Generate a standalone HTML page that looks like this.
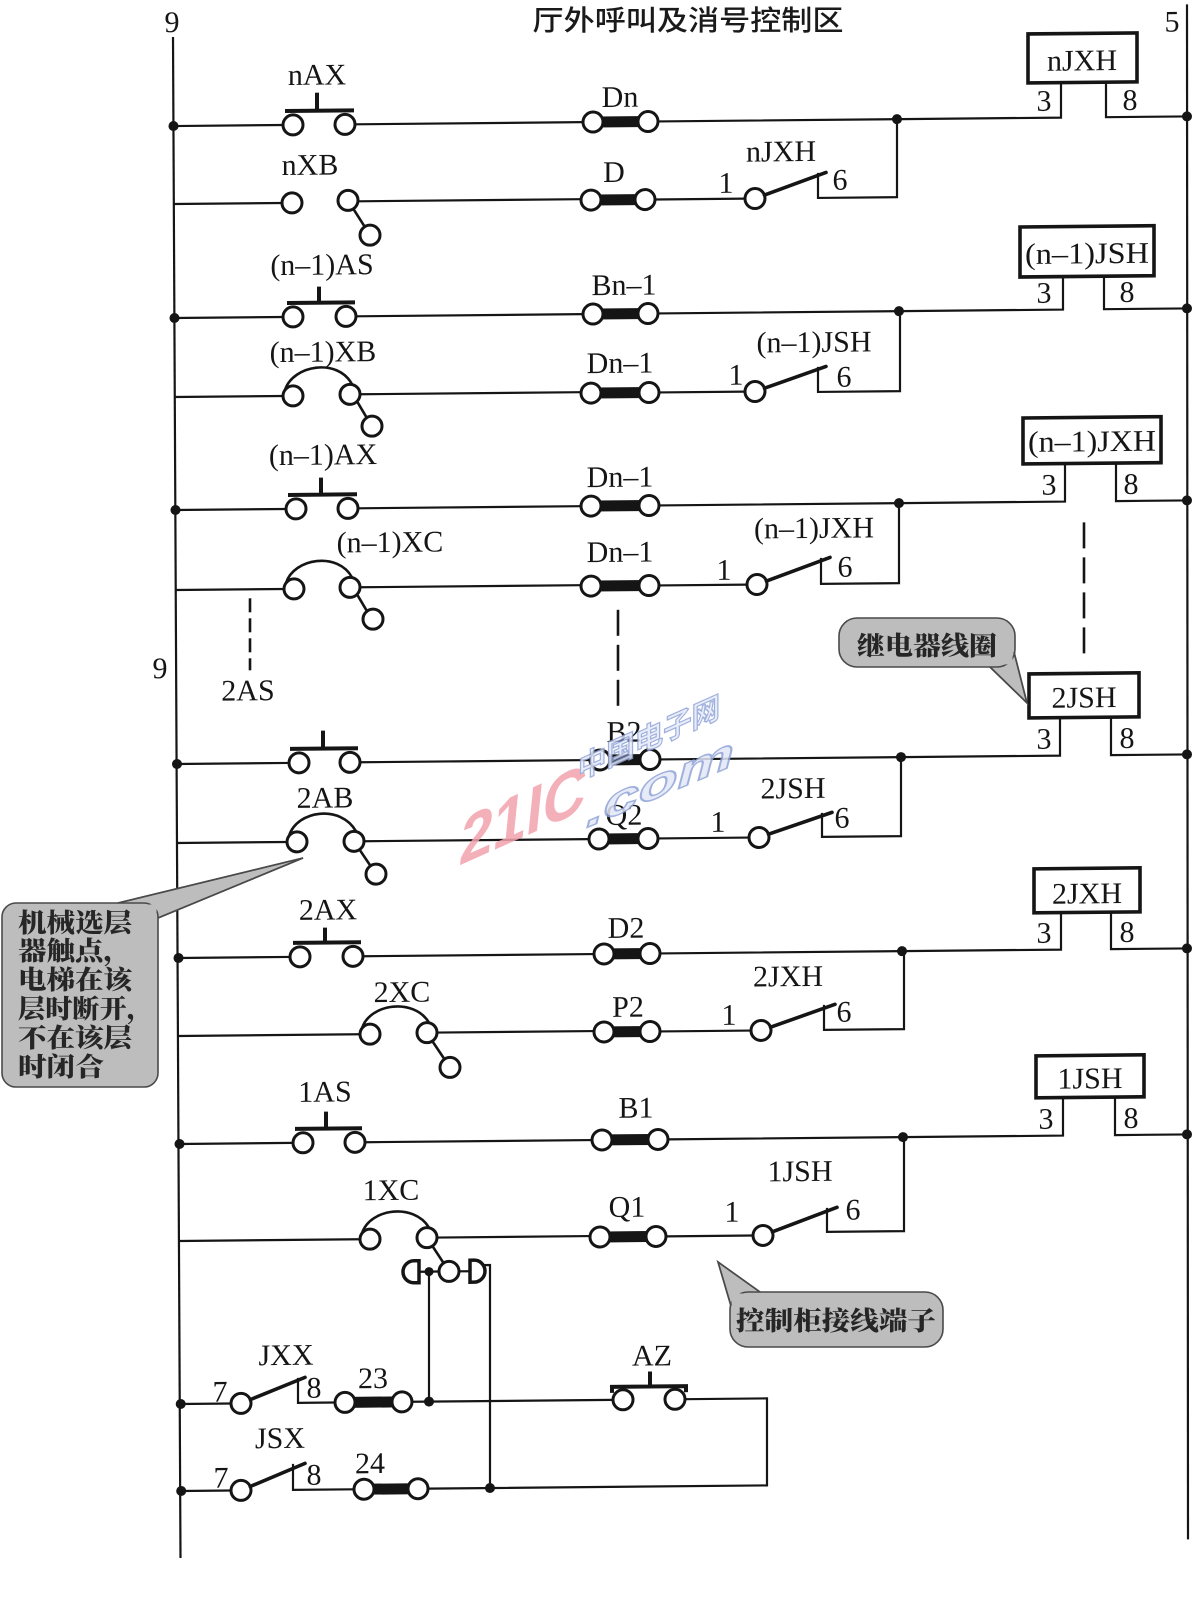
<!DOCTYPE html>
<html><head><meta charset="utf-8">
<style>html,body{margin:0;padding:0;background:#fff}svg{display:block}</style>
</head><body>
<svg width="1199" height="1598" viewBox="0 0 1199 1598" xmlns="http://www.w3.org/2000/svg">
<defs><style>
.w{stroke:#151515;stroke-width:2.2;fill:none}
.s{stroke:#151515;stroke-width:2.6;fill:none}
.c{stroke:#151515;stroke-width:3;fill:#fff}
.b{stroke:#151515;stroke-width:3.6;fill:none;stroke-linecap:round}
.bb{stroke:#151515;stroke-width:4;fill:none}
.t{font-family:"Liberation Serif","DejaVu Serif",serif;font-size:30px;fill:#151515;text-anchor:middle}
.dot{fill:#151515}
.fb{fill:#151515}
.box{stroke:#151515;stroke-width:3.6;fill:#fff}
.cj{font-family:"Liberation Serif","Noto Serif CJK SC",serif;font-weight:900;font-size:26px;fill:#262626}
.bub{fill:#bdbdbd;stroke:#4a4a4a;stroke-width:1.6}
.bf{fill:#bdbdbd}
.bl{stroke:#4a4a4a;stroke-width:1.6;fill:none}
</style></defs>
<rect width="1199" height="1598" fill="#fff"/>

<text x="688" y="30" text-anchor="middle" font-family="'Liberation Sans','Noto Sans CJK SC',sans-serif" font-weight="500" font-size="28" fill="#1a1a1a" textLength="311" lengthAdjust="spacingAndGlyphs">厅外呼叫及消号控制区</text>

<g transform="matrix(1,-0.0095,0,1,0,1.69)">
<!-- rails -->
<line class="w" x1="173" y1="37" x2="180.5" y2="1558"/>
<line class="w" x1="1187" y1="14" x2="1188" y2="1549"/>
<text class="t" x="172" y="32">9</text>
<text class="t" x="1172" y="41">5</text>

<!-- Row 1 -->
<path class="w" d="M173 126H283M355 126H583M658 126H1061V91M1106 91V126H1187"/>
<circle class="c" cx="293" cy="126" r="10"/><circle class="c" cx="345" cy="126" r="10"/>
<path class="bb" d="M285 112H354M317 94V112"/>
<text class="t" x="317" y="86">nAX</text>
<rect class="fb" x="598" y="120.5" width="45" height="11"/><circle class="c" cx="593" cy="126" r="10"/><circle class="c" cx="648" cy="126" r="10"/>
<text class="t" x="620" y="111">Dn</text>
<rect class="box" x="1028" y="42" width="109" height="49"/>
<text class="t" x="1082" y="79">nJXH</text>
<text class="t" x="1044" y="119">3</text><text class="t" x="1130" y="119">8</text>
<circle class="dot" cx="173.5" cy="126" r="5"/><circle class="dot" cx="897" cy="126" r="5"/><circle class="dot" cx="1187" cy="126" r="5"/>

<!-- Row 2 -->
<path class="w" d="M174 204H282M358 203H581M655 204H745M818 179V204H897V126"/>
<circle class="c" cx="292" cy="204" r="10"/><circle class="c" cx="348" cy="202" r="10"/><circle class="c" cx="370" cy="237" r="10"/>
<path class="s" d="M353.3 210.5L364.7 228.5"/>
<text class="t" x="310" y="176">nXB</text>
<rect class="fb" x="596" y="198.5" width="44" height="11"/><circle class="c" cx="591" cy="204" r="10"/><circle class="c" cx="645" cy="204" r="10"/>
<text class="t" x="614" y="186">D</text>
<circle class="c" cx="755" cy="204" r="10"/>
<path class="b" d="M764.4 200.6L826 178.6"/>
<text class="t" x="726" y="198">1</text><text class="t" x="840" y="196">6</text><text class="t" x="781" y="167">nJXH</text>

<!-- Row 3 -->
<path class="w" d="M174.5 318H283M356 318H583M658 318H1063V285M1104 285V318H1187"/>
<circle class="c" cx="293" cy="318" r="10"/><circle class="c" cx="346" cy="318" r="10"/>
<path class="bb" d="M287 304H355M319 288V304"/>
<text class="t" x="322" y="276">(n–1)AS</text>
<rect class="fb" x="598" y="312.5" width="45" height="11"/><circle class="c" cx="593" cy="318" r="10"/><circle class="c" cx="648" cy="318" r="10"/>
<text class="t" x="624" y="299">Bn–1</text>
<rect class="box" x="1020" y="235" width="134" height="50"/>
<text class="t" x="1087" y="272" textLength="124" lengthAdjust="spacingAndGlyphs">(n–1)JSH</text>
<text class="t" x="1044" y="311">3</text><text class="t" x="1127" y="311">8</text>
<circle class="dot" cx="174.5" cy="318" r="5"/><circle class="dot" cx="899" cy="318" r="5"/><circle class="dot" cx="1187" cy="318" r="5"/>

<!-- Row 4 -->
<path class="w" d="M175 397H283M360 396H581M659 397H745M818 373V398H900V318"/>
<circle class="c" cx="293" cy="397" r="10"/><circle class="c" cx="350" cy="396" r="10"/><circle class="c" cx="372" cy="428" r="10"/>
<path class="s" d="M285 391C293 366 338 359 352 386M357 403L367 420"/>
<text class="t" x="323" y="363">(n–1)XB</text>
<rect class="fb" x="596" y="391.5" width="48" height="11"/><circle class="c" cx="591" cy="397" r="10"/><circle class="c" cx="649" cy="397" r="10"/>
<text class="t" x="620" y="377">Dn–1</text>
<circle class="c" cx="755" cy="397" r="10"/>
<path class="b" d="M764.5 393.8L826 372.6"/>
<text class="t" x="736" y="390">1</text><text class="t" x="844" y="393">6</text><text class="t" x="814" y="358">(n–1)JSH</text>

<!-- Row 5 -->
<path class="w" d="M175.5 510H286M358 510H581M659 510H1065V472M1116 472V510H1187"/>
<circle class="c" cx="296" cy="510" r="10"/><circle class="c" cx="348" cy="510" r="10"/>
<path class="bb" d="M288 496H357M321 479V496"/>
<text class="t" x="323" y="466">(n–1)AX</text>
<rect class="fb" x="596" y="504.5" width="48" height="11"/><circle class="c" cx="591" cy="510" r="10"/><circle class="c" cx="649" cy="510" r="10"/>
<text class="t" x="620" y="491">Dn–1</text>
<rect class="box" x="1023" y="426" width="138" height="46"/>
<text class="t" x="1092" y="460" textLength="128" lengthAdjust="spacingAndGlyphs">(n–1)JXH</text>
<text class="t" x="1049" y="503">3</text><text class="t" x="1131" y="503">8</text>
<circle class="dot" cx="175.5" cy="510" r="5"/><circle class="dot" cx="899" cy="510" r="5"/><circle class="dot" cx="1187" cy="510" r="5"/>

<!-- Row 6 -->
<path class="w" d="M176 590H284M360 589H581M659 590H747M821 564V590H899V510"/>
<circle class="c" cx="294" cy="590" r="10"/><circle class="c" cx="350" cy="589" r="10"/><circle class="c" cx="373" cy="621" r="10"/>
<path class="s" d="M286 584C294 559 338 553 352 579M357 596L367 613"/>
<text class="t" x="390" y="554">(n–1)XC</text>
<rect class="fb" x="596" y="584.5" width="48" height="11"/><circle class="c" cx="591" cy="590" r="10"/><circle class="c" cx="649" cy="590" r="10"/>
<text class="t" x="620" y="566">Dn–1</text>
<circle class="c" cx="757" cy="590" r="10"/>
<path class="b" d="M766.4 586.6L830 563.6"/>
<text class="t" x="724" y="585">1</text><text class="t" x="845" y="583">6</text><text class="t" x="814" y="544">(n–1)JXH</text>

<!-- dashed continuation -->
<path class="s" style="stroke-dasharray:14 6" d="M250 599V671"/>
<path class="s" style="stroke-dasharray:26 9" d="M618 614V714M1084 531V666"/>
<text class="t" x="248" y="701">2AS</text>
<text class="t" x="160" y="678">9</text>

<!-- Row 7 -->
<path class="w" d="M177 764H289M360 764H590M660 764H1060V726M1111 726V764H1187"/>
<circle class="c" cx="299" cy="764" r="10"/><circle class="c" cx="350" cy="764" r="10"/>
<path class="bb" d="M290 750H358M323 732V750"/>
<rect class="fb" x="605" y="758.5" width="40" height="11"/><circle class="c" cx="600" cy="764" r="10"/><circle class="c" cx="650" cy="764" r="10"/>
<text class="t" x="624" y="746">B2</text>
<rect class="box" x="1029" y="682" width="110" height="44"/>
<text class="t" x="1084" y="716">2JSH</text>
<text class="t" x="1044" y="757">3</text><text class="t" x="1127" y="757">8</text>
<circle class="dot" cx="177" cy="764" r="5"/><circle class="dot" cx="901" cy="764" r="5"/><circle class="dot" cx="1187" cy="764" r="5"/>

<!-- Row 8 -->
<path class="w" d="M177.5 843H287M364 843H589M658 843H749M822 819V843H901V764"/>
<circle class="c" cx="297" cy="843" r="10"/><circle class="c" cx="354" cy="843" r="10"/><circle class="c" cx="376" cy="876" r="10"/>
<path class="s" d="M289 837C297 811 341 806 356 833M359.5 851.3L370.5 867.7"/>
<text class="t" x="325" y="809">2AB</text>
<rect class="fb" x="604" y="837.5" width="39" height="11"/><circle class="c" cx="599" cy="843" r="10"/><circle class="c" cx="648" cy="843" r="10"/>
<text class="t" x="624" y="829">Q2</text>
<circle class="c" cx="759" cy="843" r="10"/>
<path class="b" d="M768.5 839.8L832 818.6"/>
<text class="t" x="718" y="837">1</text><text class="t" x="842" y="834">6</text><text class="t" x="793" y="804">2JSH</text>

<!-- Row 9 -->
<path class="w" d="M178.5 958H290M363 958H594M660 958H1061V921M1111 921V958H1187"/>
<circle class="c" cx="300" cy="958" r="10"/><circle class="c" cx="353" cy="958" r="10"/>
<path class="bb" d="M293 944H361M325 929V944"/>
<text class="t" x="328" y="921">2AX</text>
<rect class="fb" x="609" y="952.5" width="36" height="11"/><circle class="c" cx="604" cy="958" r="10"/><circle class="c" cx="650" cy="958" r="10"/>
<text class="t" x="626" y="942">D2</text>
<rect class="box" x="1034" y="877" width="106" height="44"/>
<text class="t" x="1087" y="912">2JXH</text>
<text class="t" x="1044" y="951">3</text><text class="t" x="1127" y="951">8</text>
<circle class="dot" cx="178.5" cy="958" r="5"/><circle class="dot" cx="902" cy="958" r="5"/><circle class="dot" cx="1187" cy="958" r="5"/>

<!-- Row 10 -->
<path class="w" d="M179 1036H360M437 1035H594M660 1036H751M824 1011V1036H904V958"/>
<circle class="c" cx="370" cy="1036" r="10"/><circle class="c" cx="427" cy="1035" r="10"/><circle class="c" cx="450" cy="1070" r="10"/>
<path class="s" d="M362 1030C370 1005 414 1000 429 1025M432 1043L444 1061"/>
<text class="t" x="402" y="1004">2XC</text>
<rect class="fb" x="609" y="1030.5" width="36" height="11"/><circle class="c" cx="604" cy="1036" r="10"/><circle class="c" cx="650" cy="1036" r="10"/>
<text class="t" x="628" y="1021">P2</text>
<circle class="c" cx="761" cy="1036" r="10"/>
<path class="b" d="M770.5 1032.8L835 1010.6"/>
<text class="t" x="729" y="1030">1</text><text class="t" x="844" y="1028">6</text><text class="t" x="788" y="992">2JXH</text>

<!-- Row 11 -->
<path class="w" d="M179.5 1144H293M365 1144H592M668 1144H1063V1106M1115 1106V1144H1187"/>
<circle class="c" cx="303" cy="1144" r="10"/><circle class="c" cx="355" cy="1144" r="10"/>
<path class="bb" d="M295 1130H362M326 1113V1130"/>
<text class="t" x="325" y="1103">1AS</text>
<rect class="fb" x="607" y="1138.5" width="46" height="11"/><circle class="c" cx="602" cy="1144" r="10"/><circle class="c" cx="658" cy="1144" r="10"/>
<text class="t" x="636" y="1122">B1</text>
<rect class="box" x="1036" y="1064" width="108" height="42"/>
<text class="t" x="1090" y="1097">1JSH</text>
<text class="t" x="1046" y="1137">3</text><text class="t" x="1131" y="1137">8</text>
<circle class="dot" cx="179.5" cy="1144" r="5"/><circle class="dot" cx="903" cy="1144" r="5"/><circle class="dot" cx="1187" cy="1144" r="5"/>

<!-- Row 12 -->
<path class="w" d="M180 1241H360M437 1240H590M666 1241H753M827 1214V1238H904V1144"/>
<circle class="c" cx="370" cy="1241" r="10"/><circle class="c" cx="427" cy="1240" r="10"/><circle class="c" cx="449" cy="1274" r="10"/>
<path class="s" d="M362 1235C370 1210 414 1205 429 1230M432.4 1248.4L443.6 1265.6"/>
<text class="t" x="391" y="1202">1XC</text>
<rect class="fb" x="605" y="1235.5" width="46" height="11"/><circle class="c" cx="600" cy="1241" r="10"/><circle class="c" cx="656" cy="1241" r="10"/>
<text class="t" x="627" y="1221">Q1</text>
<circle class="c" cx="763" cy="1241" r="10"/>
<path class="b" d="M772.4 1237.5L837 1213.6"/>
<text class="t" x="732" y="1227">1</text><text class="t" x="853" y="1226">6</text><text class="t" x="800" y="1187">1JSH</text>

<!-- terminal assembly -->
<path class="w" d="M418 1274H439M459 1274H470M429 1274V1404M482 1268H490V1491"/>
<path d="M419 1263H414A11 11 0 0 0 414 1285H419Z" stroke="#151515" stroke-width="3.5" fill="#fff"/>
<path d="M470 1263H474A11 11 0 0 1 474 1285H470Z" stroke="#151515" stroke-width="3.5" fill="#fff"/>
<circle class="dot" cx="429" cy="1274" r="4.5"/>

<!-- JXX row -->
<path class="w" d="M180.7 1404H231M298 1379V1404H335M412 1404H613M685 1404H767V1491H428"/>
<circle class="c" cx="241" cy="1404" r="10"/>
<path class="b" d="M250.3 1400.3L305 1378.6"/>
<rect class="fb" x="350" y="1398.5" width="47" height="11"/><circle class="c" cx="345" cy="1404" r="10"/><circle class="c" cx="402" cy="1404" r="10"/>
<circle class="c" cx="623" cy="1404" r="10"/><circle class="c" cx="675" cy="1404" r="10"/>
<path class="bb" d="M612 1397V1391H686V1397M650 1376V1391"/>
<circle class="dot" cx="180.7" cy="1404" r="5"/><circle class="dot" cx="429" cy="1404" r="5"/>
<text class="t" x="286" y="1366">JXX</text><text class="t" x="220" y="1402">7</text><text class="t" x="314" y="1399">8</text>
<text class="t" x="373" y="1390">23</text><text class="t" x="652" y="1370">AZ</text>

<!-- JSX row -->
<path class="w" d="M181.2 1491H231M293 1465V1491H354"/>
<circle class="c" cx="241" cy="1491" r="10"/>
<path class="b" d="M250.2 1487.2L305 1464.6"/>
<rect class="fb" x="369" y="1485.5" width="44" height="11"/><circle class="c" cx="364" cy="1491" r="10"/><circle class="c" cx="418" cy="1491" r="10"/>
<circle class="dot" cx="181.2" cy="1491" r="5"/><circle class="dot" cx="490" cy="1491" r="5"/>
<text class="t" x="280" y="1449">JSX</text><text class="t" x="221" y="1488">7</text><text class="t" x="314" y="1486">8</text>
<text class="t" x="370" y="1475">24</text>
</g>

<!-- callout: relay coil -->
<polygon class="bub" points="990,667 1027,703 1014,652"/>
<rect class="bub" x="839" y="618" width="176" height="49" rx="18"/>
<polygon class="bf" points="991,665.5 1013,652.5 1012,664"/>
<path class="bl" d="M990 667L1027 703L1014 652"/>
<text class="cj" x="927" y="655" text-anchor="middle" textLength="140" lengthAdjust="spacingAndGlyphs">继电器线圈</text>

<!-- callout: left -->
<polygon class="bub" points="118,903 303,858 158,918"/>
<rect class="bub" x="2" y="903" width="156" height="184" rx="14"/>
<polygon class="bf" points="120,904.5 156.5,904.5 156.5,916"/>
<path class="bl" d="M118 903L303 858L158 918"/>
<g class="cj">
<text x="18" y="932" textLength="114" lengthAdjust="spacingAndGlyphs">机械选层</text>
<text x="18" y="960" textLength="114" lengthAdjust="spacingAndGlyphs">器触点，</text>
<text x="18" y="989" textLength="114" lengthAdjust="spacingAndGlyphs">电梯在该</text>
<text x="18" y="1018" textLength="136" lengthAdjust="spacingAndGlyphs">层时断开，</text>
<text x="18" y="1047" textLength="114" lengthAdjust="spacingAndGlyphs">不在该层</text>
<text x="18" y="1076" textLength="86" lengthAdjust="spacingAndGlyphs">时闭合</text>
</g>

<!-- callout: terminals -->
<polygon class="bub" points="731,1306 718,1262 760,1292"/>
<rect class="bub" x="730" y="1292" width="213" height="55" rx="18"/>
<polygon class="bf" points="731.5,1304 732,1293.5 758,1293.5"/>
<path class="bl" d="M731 1306L718 1262L760 1292"/>
<text class="cj" x="836" y="1330" text-anchor="middle" textLength="200" lengthAdjust="spacingAndGlyphs">控制柜接线端子</text>

<!-- watermark -->
<g opacity="0.85">
<text transform="translate(458,866) skewY(-24) skewX(-6)" font-family="'Liberation Sans',sans-serif" font-weight="bold" font-size="66" fill="#f3a3ad" textLength="126" lengthAdjust="spacingAndGlyphs">21IC</text>
<text transform="translate(586,828) skewY(-23)" font-family="'Liberation Sans',sans-serif" font-weight="bold" font-style="italic" font-size="42" fill="#e3e8f7" stroke="#8fa3d8" stroke-width="1.5" textLength="148" lengthAdjust="spacingAndGlyphs">.com</text>
<text transform="translate(578,780) skewY(-24)" font-family="'Liberation Sans','Noto Sans CJK SC',sans-serif" font-weight="bold" font-size="30" fill="#e6eaf8" stroke="#8fa3d8" stroke-width="1.3" textLength="142" lengthAdjust="spacingAndGlyphs">中国电子网</text>
</g>
</svg>
</body></html>
